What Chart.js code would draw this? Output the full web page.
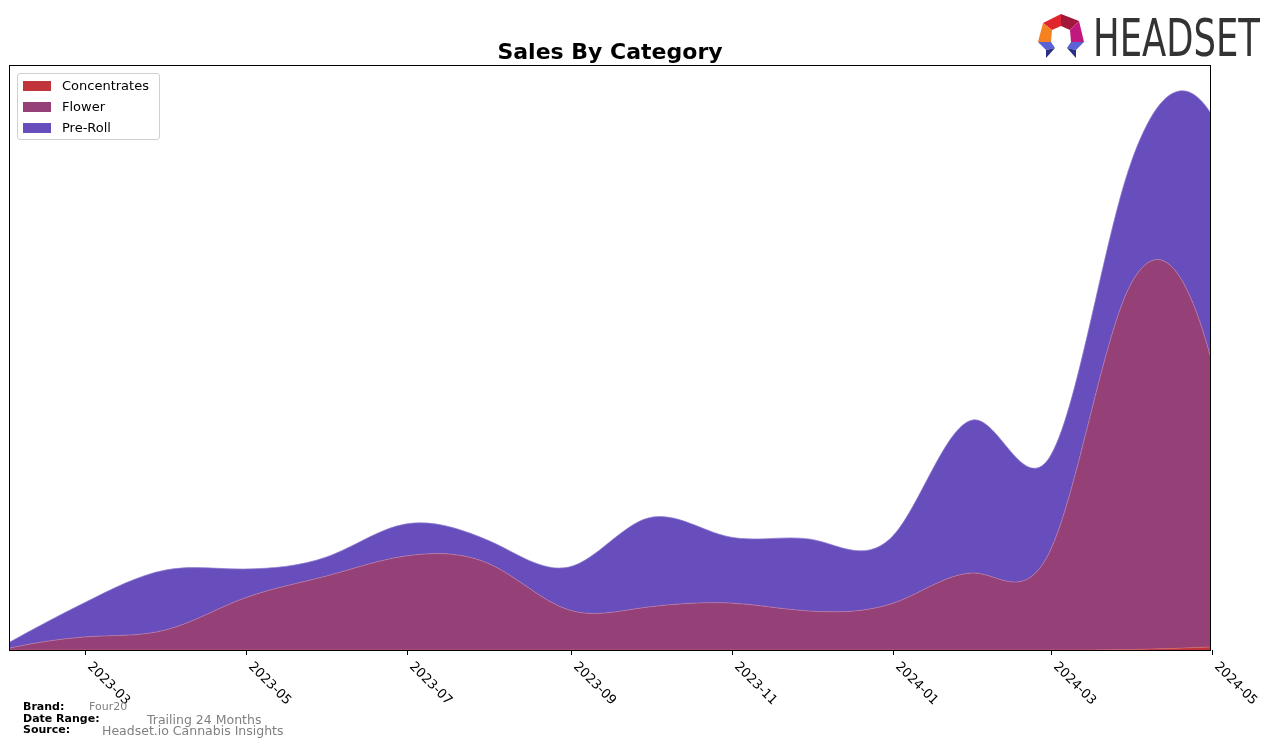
<!DOCTYPE html>
<html>
<head>
<meta charset="utf-8">
<script src="https://cdn.jsdelivr.net/npm/chart.js@4/dist/chart.umd.min.js"></script>
<style>
  body { margin: 0; background: #fff; font-family: "DejaVu Sans", sans-serif; }
  #wrap { position: relative; width: 1276px; height: 746px; overflow: hidden; }
  #chart { position: absolute; left: 0; top: 0; }
  .title { position: absolute; left: 0; width: 1220px; top: 39px; text-align: center; font-weight: bold; font-size: 22px; color: #000; }
  .legend { position: absolute; left: 17px; top: 73px; width: 141px; height: 65px; border: 1px solid #d0d0d0; border-radius: 3px; background: rgba(255,255,255,0.8); }
  .lg { position: absolute; left: 5px; height: 16px; font-size: 13px; line-height: 16px; color: #000; }
  .lg i { position: absolute; left: 0; top: 3px; width: 28px; height: 10px; }
  .lg span { position: absolute; left: 39px; white-space: nowrap; }
  .foot { position: absolute; font-size: 11px; line-height: 12px; white-space: nowrap; }
  .foot b { color: #000; }
  .grey { color: #808080; }
</style>
</head>
<body>
<div id="wrap">
  <canvas id="chart" width="1276" height="746"></canvas>
  <div class="title">Sales By Category</div>
  <div class="legend">
    <div class="lg" style="top:4px"><i style="background:#c0343a"></i><span>Concentrates</span></div>
    <div class="lg" style="top:25px"><i style="background:#954077"></i><span>Flower</span></div>
    <div class="lg" style="top:46px"><i style="background:#684ebc"></i><span>Pre-Roll</span></div>
  </div>
  <svg style="position:absolute;left:0;top:0" width="1276" height="70">
    <polygon points="1061,14 1043,23 1052,30 1061,26" fill="#e1252f"/>
    <polygon points="1061,14 1061,26 1070,30 1079,21" fill="#a3183a"/>
    <polygon points="1079,21 1070,30 1071,42 1084,42" fill="#c2177e"/>
    <polygon points="1043,23 1052,30 1051,42 1038,42" fill="#f58220"/>
    <polygon points="1038,42 1051,42 1055,48 1046,50" fill="#5a62d6"/>
    <polygon points="1046,50 1055,48 1046,58" fill="#2b2f86"/>
    <polygon points="1084,42 1071,42 1067,48 1076,50" fill="#5a62d6"/>
    <polygon points="1076,50 1067,48 1076,58" fill="#2b2f86"/>
    <text x="1093" y="56" font-family="Liberation Sans Narrow, DejaVu Sans Condensed, sans-serif" font-size="51" fill="#333" textLength="167" lengthAdjust="spacingAndGlyphs">HEADSET</text>
  </svg>
  <div class="foot" style="left:23px;top:701px"><b>Brand:</b></div>
  <div class="foot grey" style="left:89px;top:701px">Four20</div>
  <div class="foot" style="left:23px;top:713px"><b>Date Range:</b></div>
  <div class="foot grey" style="left:147px;top:712px;font-size:12.5px;line-height:15px">Trailing 24 Months</div>
  <div class="foot" style="left:23px;top:724px"><b>Source:</b></div>
  <div class="foot grey" style="left:102px;top:723px;font-size:12.5px;line-height:15px">Headset.io Cannabis Insights</div>
</div>
<script>
const months = ['2023-02', '2023-03', '2023-04', '2023-05', '2023-06', '2023-07', '2023-08', '2023-09',
                '2023-10', '2023-11', '2023-12', '2024-01', '2024-02', '2024-03', '2024-04', '2024-05'];
const concentrates = [0, 0, 0, 0, 0, 0, 0, 0, 0, 0, 0, 0, 0, 0, 50, 300];
const flower = [200, 1300, 2000, 5200, 7400, 9400, 8700, 4000, 4300, 4700, 3900, 4600, 7700, 9700, 36550, 29200];
const preRoll = [600, 3400, 6000, 2900, 1900, 3200, 2300, 4300, 8900, 6600, 7200, 6600, 15300, 9500, 12100, 24300];
const tickLabels = ['2023-03', '2023-05', '2023-07', '2023-09', '2023-11', '2024-01', '2024-03', '2024-05'];

// day offset from the first month, so the x axis keeps real month lengths
const base = Date.UTC(2023, 1, 1);
const dayOf = (m) => {
    const [y, mo] = m.split('-').map(Number);
    return (Date.UTC(y, mo - 1, 1) - base) / 864e5;
};
const pts = (vals) => vals.map((v, i) => ({ x: dayOf(months[i]) - 1, y: v }));

function solve(A, b) {
    const N = b.length;
    for (let c = 0; c < N; c++) {
        let piv = c;
        for (let r = c + 1; r < N; r++) if (Math.abs(A[r][c]) > Math.abs(A[piv][c])) piv = r;
        [A[c], A[piv]] = [A[piv], A[c]];
        [b[c], b[piv]] = [b[piv], b[c]];
        for (let r = c + 1; r < N; r++) {
            const f = A[r][c] / A[c][c];
            if (!f) continue;
            for (let k = c; k < N; k++) A[r][k] -= f * A[c][k];
            b[r] -= f * b[c];
        }
    }
    const out = new Array(N).fill(0);
    for (let r = N - 1; r >= 0; r--) {
        let s = b[r];
        for (let k = r + 1; k < N; k++) s -= A[r][k] * out[k];
        out[r] = s / A[r][r];
    }
    return out;
}

// quadratic interpolating spline (knots at midpoints, ends like not-a-knot),
// its slopes at each point turned into bezier control points
function splineControls(points) {
    const n = points.length - 1;
    if (n < 3) return;
    const x = points.map(p => p.x), y = points.map(p => p.y);
    const P = n - 1, S = 100;
    const left = (j) => j === 0 ? x[0] : (x[j] + x[j + 1]) / 2;
    const pieceOf = (i) => i <= 1 ? 0 : (i >= n - 1 ? P - 1 : i - 1);
    const N = 3 * P;
    const A = [], b = [];
    const row = () => { const r = new Array(N).fill(0); A.push(r); return r; };
    for (let i = 0; i <= n; i++) {
        const j = pieceOf(i), u = (x[i] - left(j)) / S, r = row();
        r[3 * j] = 1; r[3 * j + 1] = u; r[3 * j + 2] = u * u;
        b.push(y[i]);
    }
    for (let j = 1; j < P; j++) {
        const xk = left(j);
        const u0 = (xk - left(j - 1)) / S;
        const r1 = row();
        r1[3 * (j - 1)] = 1; r1[3 * (j - 1) + 1] = u0; r1[3 * (j - 1) + 2] = u0 * u0;
        r1[3 * j] = -1;
        b.push(0);
        const r2 = row();
        r2[3 * (j - 1) + 1] = 1; r2[3 * (j - 1) + 2] = 2 * u0;
        r2[3 * j + 1] = -1;
        b.push(0);
    }
    const c = solve(A, b);
    const slope = x.map((xi, i) => {
        const j = pieceOf(i), u = (xi - left(j)) / S;
        return (c[3 * j + 1] + 2 * c[3 * j + 2] * u) / S;
    });
    for (let i = 0; i < n; i++) {
        const h = x[i + 1] - x[i];
        points[i].cp2x = x[i] + h / 3;
        points[i].cp2y = y[i] + slope[i] * h / 3;
        points[i + 1].cp1x = x[i + 1] - h / 3;
        points[i + 1].cp1y = y[i + 1] - slope[i + 1] * h / 3;
    }
    points[0].cp1x = x[0]; points[0].cp1y = y[0];
    points[n].cp2x = x[n]; points[n].cp2y = y[n];
}

const splinePlugin = {
    id: 'splinePlugin',
    afterDatasetsUpdate(chart) {
        chart.data.datasets.forEach((ds, i) => {
            const meta = chart.getDatasetMeta(i);
            splineControls(meta.data);
            meta.dataset._pointsUpdated = true;
        });
    }
};

const axisPlugin = {
    id: 'axisPlugin',
    afterDraw(chart) {
        const ctx = chart.ctx;
        const a = chart.chartArea;
        const xs = chart.scales.x;
        ctx.save();
        ctx.strokeStyle = '#000';
        ctx.lineWidth = 1;
        ctx.strokeRect(a.left - 0.5, a.top - 0.5, a.right - a.left + 1, a.bottom - a.top + 1);
        ctx.fillStyle = '#000';
        ctx.font = '13px "DejaVu Sans"';
        ctx.textAlign = 'left';
        ctx.textBaseline = 'top';
        tickLabels.forEach((t) => {
            const px = Math.round(xs.getPixelForValue(dayOf(t)));
            ctx.beginPath();
            ctx.moveTo(px - 0.5, a.bottom);
            ctx.lineTo(px - 0.5, a.bottom + 5);
            ctx.stroke();
            ctx.save();
            ctx.translate(px + 8, a.bottom + 10);
            ctx.rotate(Math.PI / 4);
            ctx.fillText(t, 0, 0);
            ctx.restore();
        });
        ctx.restore();
    }
};

const chart = new Chart(
    document.getElementById('chart'),
    {
        type: 'line',
        data: {
            datasets: [{
                label: 'Concentrates',
                data: pts(concentrates),
                backgroundColor: '#c0343a',
                borderColor: '#d0686c',
                borderWidth: 0.7,
                fill: 'origin',
            }, {
                label: 'Flower',
                data: pts(flower),
                backgroundColor: '#954077',
                borderColor: '#b77aa8',
                borderWidth: 0.7,
                fill: '-1',
            }, {
                label: 'Pre-Roll',
                data: pts(preRoll),
                backgroundColor: '#684ebc',
                borderColor: '#8d7bd0',
                borderWidth: 0.7,
                fill: '-1',
            }]
        },
        options: {
            responsive: false,
            animation: false,
            devicePixelRatio: 1,
            layout: { padding: { left: 10, top: 66, right: 66, bottom: 96 } },
            elements: { point: { radius: 0 }, line: { tension: 0.4 } },
            scales: {
                x: { type: 'linear', display: false, min: -1, max: dayOf(months[months.length - 1]) - 1 },
                y: { display: false, stacked: true, min: 0, max: 58400 },
            },
            plugins: {
                legend: { display: false },
                tooltip: { enabled: false },
            },
        },
        plugins: [splinePlugin, axisPlugin]
    }
)
</script>
</body>
</html>
